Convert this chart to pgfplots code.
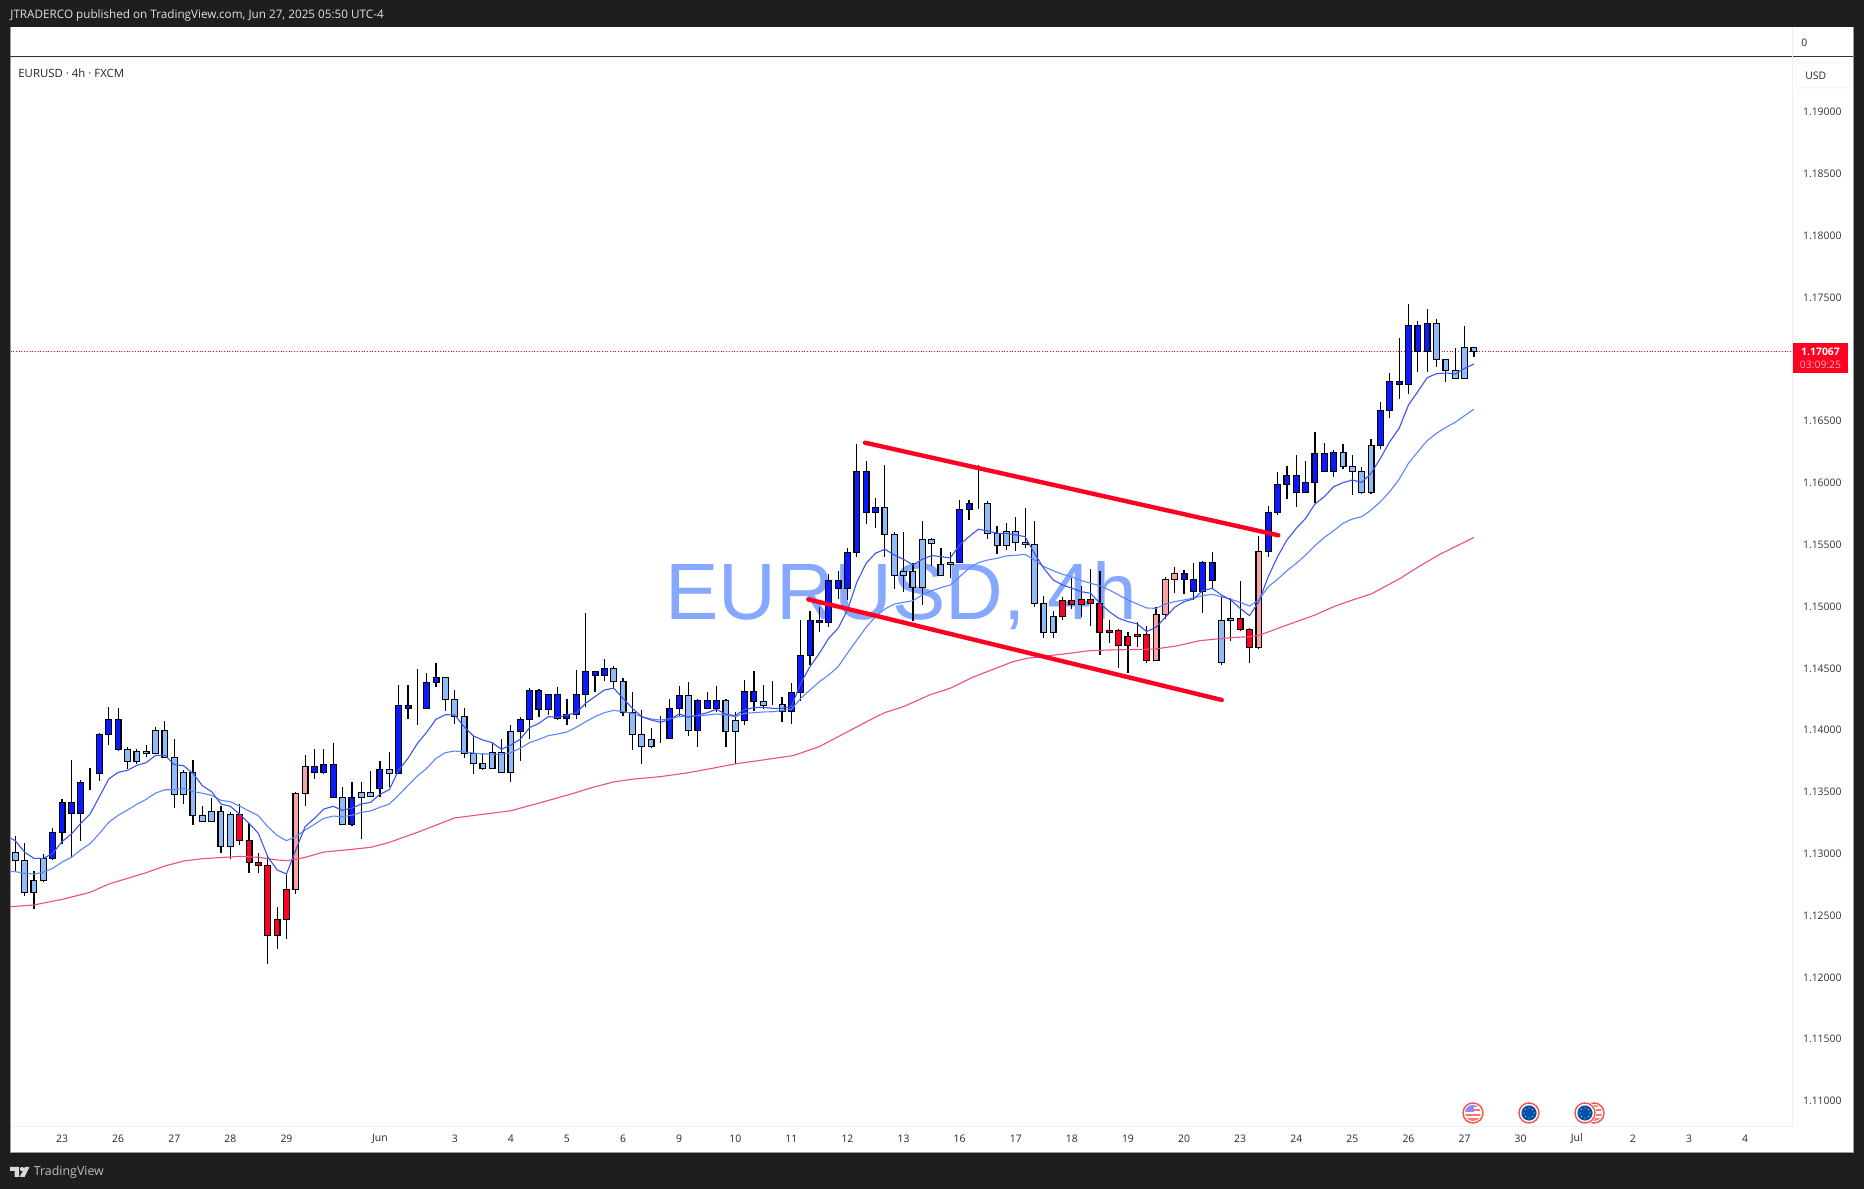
\documentclass[border=0pt]{standalone}
\usepackage{fontspec}
\setmainfont{Open Sans}
\usepackage{pgfplots}
\usepackage{pgfplotstable}
\pgfplotsset{compat=1.18}

\definecolor{chrome}{HTML}{1E1E1E}
\definecolor{upblue}{HTML}{0A1AFF}
\definecolor{dnblue}{HTML}{8FBBF9}
\definecolor{dnred}{HTML}{FF0022}
\definecolor{uppink}{HTML}{FAA1A4}
\definecolor{emafast}{HTML}{3B55F2}
\definecolor{emaslow}{HTML}{5C86FF}
\definecolor{emapink}{HTML}{EF4F7F}
\definecolor{wmark}{HTML}{86A8FF}
\definecolor{paneline}{HTML}{F0F0F0}

% x k high top bottom low  (k: 0 blue up, 1 light blue down, 2 red down, 3 pink up)
\pgfplotstableread{
x k h t b l
0 1 1.13144 1.13012 1.12947 1.12852
1 1 1.13084 1.12947 1.12688 1.12661
2 1 1.12861 1.12785 1.12688 1.12556
3 1 1.12995 1.12963 1.12785 1.12769
4 0 1.13206 1.13173 1.12963 1.12952
5 0 1.13440 1.13416 1.13173 1.13082
6 0 1.13758 1.13416 1.13327 1.12971
7 0 1.13594 1.13578 1.13327 1.13106
8 0 1.13694 1.13578 1.13578 1.13518
9 0 1.13974 1.13966 1.13650 1.13591
10 0 1.14184 1.14087 1.13966 1.13882
11 0 1.14176 1.14087 1.13845 1.13828
12 1 1.13861 1.13845 1.13748 1.13683
13 1 1.13845 1.13828 1.13748 1.13729
14 1 1.13877 1.13828 1.13812 1.13785
15 1 1.14023 1.13998 1.13812 1.13812
16 1 1.14074 1.13998 1.13780 1.13780
17 1 1.13928 1.13780 1.13481 1.13373
18 1 1.13675 1.13659 1.13481 1.13405
19 1 1.13758 1.13659 1.13311 1.13235
20 1 1.13386 1.13311 1.13262 1.13262
21 1 1.13448 1.13343 1.13262 1.13254
22 1 1.13386 1.13343 1.13060 1.13009
23 1 1.13335 1.13319 1.13060 1.12955
24 2 1.13400 1.13319 1.13109 1.13074
25 2 1.13246 1.13109 1.12931 1.12842
26 2 1.13003 1.12931 1.12906 1.12842
27 2 1.12971 1.12906 1.12340 1.12106
28 2 1.12569 1.12470 1.12340 1.12232
29 2 1.12842 1.12712 1.12470 1.12308
30 3 1.13497 1.13489 1.12712 1.12677
31 3 1.13796 1.13707 1.13489 1.13389
32 0 1.13845 1.13707 1.13659 1.13607
33 0 1.13845 1.13723 1.13659 1.13645
34 0 1.13893 1.13723 1.13456 1.13456
35 1 1.13537 1.13456 1.13238 1.13238
36 0 1.13578 1.13456 1.13238 1.13227
37 1 1.13578 1.13497 1.13456 1.13122
38 1 1.13667 1.13497 1.13464 1.13456
39 0 1.13748 1.13683 1.13529 1.13456
40 1 1.13820 1.13683 1.13650 1.13537
41 0 1.14362 1.14200 1.13650 1.13642
42 0 1.14362 1.14200 1.14176 1.14093
43 0 1.14492 1.14176 1.14176 1.14044
44 0 1.14460 1.14387 1.14176 1.14168
45 0 1.14541 1.14428 1.14387 1.14352
46 1 1.14428 1.14428 1.14249 1.14155
47 1 1.14325 1.14249 1.14112 1.14050
48 1 1.14176 1.14112 1.13813 1.13772
49 1 1.13953 1.13813 1.13732 1.13643
50 1 1.13813 1.13732 1.13692 1.13678
51 1 1.13894 1.13821 1.13692 1.13692
52 1 1.13926 1.13821 1.13659 1.13651
53 1 1.14039 1.13991 1.13659 1.13578
54 0 1.14104 1.14088 1.13991 1.13754
55 0 1.14339 1.14322 1.14088 1.13926
56 0 1.14330 1.14322 1.14169 1.14104
57 0 1.14290 1.14290 1.14169 1.14123
58 0 1.14347 1.14290 1.14096 1.14080
59 0 1.14255 1.14128 1.14096 1.14042
60 0 1.14487 1.14290 1.14128 1.14093
61 0 1.14945 1.14476 1.14290 1.14185
62 0 1.14476 1.14476 1.14444 1.14309
63 0 1.14573 1.14500 1.14444 1.14395
64 1 1.14516 1.14500 1.14395 1.14330
65 1 1.14419 1.14395 1.14144 1.14117
66 1 1.14306 1.14144 1.13967 1.13837
67 1 1.14161 1.13967 1.13869 1.13724
68 1 1.14015 1.13926 1.13869 1.13853
69 0 1.14112 1.13934 1.13934 1.13894
70 0 1.14249 1.14176 1.13934 1.13934
71 0 1.14355 1.14282 1.14176 1.14104
72 1 1.14387 1.14282 1.13999 1.13950
73 0 1.14249 1.14242 1.13999 1.13867
74 0 1.14306 1.14242 1.14176 1.14176
75 0 1.14355 1.14242 1.14176 1.14150
76 1 1.14249 1.14242 1.13991 1.13861
77 1 1.14144 1.14080 1.13991 1.13724
78 0 1.14403 1.14314 1.14080 1.14039
79 0 1.14476 1.14314 1.14233 1.14153
80 1 1.14363 1.14233 1.14201 1.14169
81 0 1.14395 1.14209 1.14209 1.14201
82 1 1.14266 1.14209 1.14153 1.14064
83 0 1.14379 1.14306 1.14153 1.14053
84 0 1.14891 1.14605 1.14306 1.14239
85 0 1.14961 1.14889 1.14605 1.14530
86 0 1.14994 1.14889 1.14873 1.14794
87 0 1.15261 1.15212 1.14873 1.14837
88 0 1.15285 1.15212 1.15148 1.15059
89 0 1.15471 1.15439 1.15148 1.15053
90 0 1.16315 1.16094 1.15439 1.15404
91 0 1.16175 1.16094 1.15762 1.15671
92 0 1.15875 1.15803 1.15762 1.15638
93 1 1.16142 1.15803 1.15584 1.15398
94 1 1.15600 1.15584 1.15253 1.15142
95 1 1.15603 1.15285 1.15253 1.15121
96 1 1.15350 1.15285 1.15156 1.14886
97 1 1.15689 1.15544 1.15156 1.15013
98 1 1.15552 1.15544 1.15511 1.15331
99 1 1.15471 1.15342 1.15253 1.15253
100 1 1.15439 1.15358 1.15342 1.15234
101 0 1.15859 1.15786 1.15358 1.15358
102 0 1.15859 1.15835 1.15786 1.15703
103 0 1.16142 1.15835 1.15835 1.15786
104 1 1.15851 1.15835 1.15592 1.15549
105 1 1.15649 1.15592 1.15495 1.15425
106 1 1.15673 1.15609 1.15495 1.15460
107 1 1.15722 1.15609 1.15520 1.15449
108 1 1.15795 1.15520 1.15503 1.15476
109 1 1.15689 1.15503 1.15026 1.14994
110 1 1.15083 1.15026 1.14792 1.14749
111 1 1.14964 1.14921 1.14792 1.14749
112 2 1.15075 1.15050 1.14921 1.14891
113 2 1.15231 1.15050 1.15018 1.14983
114 2 1.15164 1.15059 1.15018 1.14918
115 2 1.15301 1.15059 1.15026 1.14846
116 2 1.15285 1.15026 1.14792 1.14608
117 2 1.14891 1.14808 1.14792 1.14708
118 2 1.14816 1.14808 1.14687 1.14506
119 2 1.14792 1.14759 1.14687 1.14463
120 2 1.14873 1.14775 1.14759 1.14676
121 2 1.14840 1.14775 1.14565 1.14546
122 3 1.14994 1.14937 1.14565 1.14557
123 3 1.15236 1.15220 1.14937 1.14899
124 3 1.15320 1.15269 1.15220 1.15110
125 0 1.15293 1.15269 1.15220 1.15102
126 0 1.15350 1.15220 1.15123 1.15050
127 0 1.15365 1.15357 1.15123 1.14950
128 0 1.15438 1.15357 1.15212 1.15147
129 1 1.15082 1.14888 1.14548 1.14524
130 1 1.15066 1.14904 1.14888 1.14724
131 2 1.15203 1.14904 1.14815 1.14804
132 2 1.14823 1.14815 1.14670 1.14540
133 3 1.15567 1.15446 1.14670 1.14653
134 0 1.15810 1.15762 1.15446 1.15403
135 0 1.16086 1.15988 1.15762 1.15743
136 0 1.16134 1.16061 1.15988 1.15867
137 0 1.16223 1.16061 1.15924 1.15803
138 0 1.16175 1.16005 1.15924 1.15924
139 0 1.16409 1.16239 1.16005 1.15835
140 0 1.16320 1.16239 1.16094 1.16086
141 0 1.16264 1.16247 1.16094 1.16045
142 1 1.16315 1.16247 1.16134 1.16113
143 1 1.16223 1.16134 1.16094 1.15905
144 1 1.16126 1.16094 1.15924 1.15908
145 1 1.16353 1.16304 1.15924 1.15908
146 0 1.16651 1.16587 1.16304 1.16271
147 0 1.16886 1.16821 1.16587 1.16527
148 0 1.17169 1.16821 1.16797 1.16676
149 0 1.17444 1.17274 1.16797 1.16722
150 0 1.17307 1.17274 1.17064 1.16899
151 0 1.17404 1.17290 1.17064 1.16899
152 1 1.17323 1.17290 1.16999 1.16940
153 1 1.16999 1.16999 1.16910 1.16813
154 1 1.17088 1.16910 1.16846 1.16846
155 1 1.17266 1.17096 1.16846 1.16837
156 1 1.17096 1.17096 1.17064 1.17021
}\candles

\pgfplotstableread{
x y
-0.5 1.13125
0 1.13106
1 1.13012
2 1.12963
3 1.12963
4 1.13003
5 1.13098
6 1.13160
7 1.13246
8 1.13322
9 1.13462
10 1.13605
11 1.13659
12 1.13675
13 1.13715
14 1.13737
15 1.13796
16 1.13796
17 1.13721
18 1.13712
19 1.13650
20 1.13551
21 1.13502
22 1.13402
23 1.13384
24 1.13319
25 1.13246
26 1.13165
27 1.12976
28 1.12869
29 1.12836
30 1.13031
31 1.13219
32 1.13287
33 1.13362
34 1.13384
35 1.13351
36 1.13370
37 1.13402
38 1.13416
39 1.13481
40 1.13518
41 1.13677
42 1.13772
43 1.13892
44 1.13983
45 1.14088
46 1.14125
47 1.14122
48 1.14028
49 1.13953
50 1.13920
51 1.13899
52 1.13845
53 1.13880
54 1.13926
55 1.14020
56 1.14055
57 1.14109
58 1.14104
59 1.14122
60 1.14141
61 1.14217
62 1.14271
63 1.14325
64 1.14339
65 1.14257
66 1.14176
67 1.14109
68 1.14082
69 1.14063
70 1.14087
71 1.14131
72 1.14104
73 1.14122
74 1.14141
75 1.14168
76 1.14128
77 1.14117
78 1.14168
79 1.14182
80 1.14184
81 1.14176
82 1.14176
83 1.14190
84 1.14379
85 1.14514
86 1.14622
87 1.14743
88 1.14824
89 1.14972
90 1.15196
91 1.15350
92 1.15431
93 1.15463
94 1.15417
95 1.15382
96 1.15336
97 1.15382
98 1.15412
99 1.15403
100 1.15393
101 1.15498
102 1.15565
103 1.15625
104 1.15611
105 1.15592
106 1.15592
107 1.15579
108 1.15565
109 1.15430
110 1.15309
111 1.15215
112 1.15174
113 1.15148
114 1.15120
115 1.15107
116 1.15026
117 1.14958
118 1.14905
119 1.14878
120 1.14859
121 1.14797
122 1.14832
123 1.14913
124 1.14994
125 1.15039
126 1.15061
127 1.15128
128 1.15147
129 1.15093
130 1.15052
131 1.14985
132 1.14926
133 1.15039
134 1.15241
135 1.15403
136 1.15538
137 1.15632
138 1.15713
139 1.15829
140 1.15888
141 1.15969
142 1.16002
143 1.16023
144 1.16004
145 1.16077
146 1.16199
147 1.16333
148 1.16441
149 1.16630
150 1.16738
151 1.16851
152 1.16883
153 1.16889
154 1.16881
155 1.16926
156 1.16961
}\emafast

\pgfplotstableread{
x y
-0.5 1.12855
0 1.12855
1 1.12842
2 1.12836
3 1.12850
4 1.12882
5 1.12933
6 1.12971
7 1.13031
8 1.13082
9 1.13165
10 1.13254
11 1.13311
12 1.13354
13 1.13400
14 1.13440
15 1.13491
16 1.13518
17 1.13518
18 1.13529
19 1.13505
20 1.13489
21 1.13473
22 1.13432
23 1.13421
24 1.13386
25 1.13346
26 1.13308
27 1.13219
28 1.13149
29 1.13106
30 1.13138
31 1.13192
32 1.13238
33 1.13287
34 1.13305
35 1.13300
36 1.13311
37 1.13335
38 1.13346
39 1.13376
40 1.13402
41 1.13475
42 1.13553
43 1.13629
44 1.13691
45 1.13772
46 1.13818
47 1.13831
48 1.13823
49 1.13815
50 1.13807
51 1.13807
52 1.13804
53 1.13818
54 1.13853
55 1.13899
56 1.13926
57 1.13955
58 1.13969
59 1.13985
60 1.14023
61 1.14068
62 1.14109
63 1.14141
64 1.14160
65 1.14149
66 1.14136
67 1.14109
68 1.14090
69 1.14082
70 1.14093
71 1.14109
72 1.14109
73 1.14117
74 1.14122
75 1.14131
76 1.14122
77 1.14109
78 1.14136
79 1.14141
80 1.14147
81 1.14149
82 1.14158
83 1.14168
84 1.14257
85 1.14325
86 1.14392
87 1.14446
88 1.14514
89 1.14622
90 1.14729
91 1.14832
92 1.14918
93 1.14980
94 1.15020
95 1.15034
96 1.15047
97 1.15093
98 1.15128
99 1.15152
100 1.15174
101 1.15241
102 1.15309
103 1.15355
104 1.15376
105 1.15390
106 1.15409
107 1.15414
108 1.15422
109 1.15376
110 1.15322
111 1.15290
112 1.15260
113 1.15241
114 1.15209
115 1.15188
116 1.15168
117 1.15134
118 1.15093
119 1.15053
120 1.15020
121 1.14988
122 1.14985
123 1.15020
124 1.15039
125 1.15053
126 1.15069
127 1.15088
128 1.15098
129 1.15079
130 1.15058
131 1.15034
132 1.15004
133 1.15053
134 1.15160
135 1.15220
136 1.15290
137 1.15349
138 1.15416
139 1.15492
140 1.15559
141 1.15613
142 1.15673
143 1.15708
144 1.15726
145 1.15780
146 1.15848
147 1.15929
148 1.16029
149 1.16158
150 1.16252
151 1.16341
152 1.16401
153 1.16449
154 1.16490
155 1.16544
156 1.16595
}\emaslow

\pgfplotstableread{
x y
-0.5 1.12572
2 1.12586
5 1.12631
8 1.12688
10 1.12755
14 1.12847
16 1.12901
18 1.12941
20 1.12960
24 1.12979
26 1.12971
28 1.12950
29 1.12944
30 1.12955
31 1.12971
33 1.13014
35 1.13028
38 1.13052
40 1.13092
43 1.13173
47 1.13290
53 1.13348
57.2 1.13435
59.7 1.13489
61.8 1.13538
64 1.13581
66 1.13603
69 1.13624
72 1.13656
74.6 1.13692
77 1.13727
80 1.13759
83.2 1.13794
86 1.13867
91.4 1.14082
93 1.14142
95 1.14190
97.8 1.14285
100 1.14339
102.4 1.14428
104.6 1.14492
106.7 1.14554
108.2 1.14581
110.3 1.14600
112.8 1.14622
114.9 1.14643
117.4 1.14649
121 1.14654
122 1.14657
124.2 1.14681
126.7 1.14724
130 1.14748
132 1.14756
133 1.14767
134 1.14794
136 1.14850
139 1.14931
141 1.14999
143 1.15052
145 1.15101
148 1.15222
150.2 1.15327
152.4 1.15424
156 1.15558
}\emalong

\pgfplotsset{
  chart/.style={
    at={(5.25pt,31.25pt)}, anchor=south west,
    scale only axis, width=890.75pt, height=534.25pt,
    xmin=-0.513, xmax=190.02, ymin=1.10794, ymax=1.194368,
    clip=true,
  },
  candlebody/.style={draw=black, line width=0.6pt, fill=#1},
}

\newcommand{\txt}[1]{\fontsize{#1}{#1}\selectfont}

\begin{document}
\begin{tikzpicture}[x=1pt,y=1pt]
% page chrome, coordinates in reference pixels
\begin{scope}[x=0.5pt,y=-0.5pt,shift={(0pt,594.5pt)}]
  \fill[chrome] (0,0) rectangle (1864,1189);
  \fill[white] (10,27) rectangle (1853,1153);
  \node[anchor=base west,inner sep=0pt,text=wmark,font=\fontspec{Liberation Sans}\fontsize{40}{40}\selectfont] at (665,620) {EURUSD, 4h};
\end{scope}

% axis with ticks, price line, wicks
\begin{axis}[chart,
    axis line style={draw=paneline, line width=0.5pt},
    tick style={draw=none},
    ytick={1.11,1.115,1.12,1.125,1.13,1.135,1.14,1.145,1.15,1.155,1.16,1.165,1.175,1.18,1.185,1.19},
    ytick pos=right,
    yticklabel pos=right,
    yticklabel style={font=\txt{5.2}, text=black!80, anchor=west, xshift=2pt,
      /pgf/number format/.cd, fixed, fixed zerofill, precision=5, assume math mode=true},
    scaled y ticks=false,
    xtick={5,11,17,23,29,39,47,53,59,65,71,77,83,89,95,101,107,113,119,125,131,137,143,149,155,161,167,173,179,185},
    xticklabels={23,26,27,28,29,Jun,3,4,5,6,9,10,11,12,13,16,17,18,19,20,23,24,25,26,27,30,Jul,2,3,4},
    xtick pos=bottom,
    xticklabel style={font=\txt{5.2}, text=black!85, anchor=center, yshift=-6.2pt},
  ]
  \addplot[dnred, line width=0.35pt, dash pattern=on 0.4pt off 0.95pt] coordinates {(-0.5,1.17067) (190,1.17067)};
  \addplot[draw=none, mark=none,
    error bars/.cd, y dir=both, y explicit, error mark=none,
    error bar style={black, line width=0.6pt}]
    table[x=x, y=t, y error plus expr=\thisrow{h}-\thisrow{t}, y error minus expr=\thisrow{t}-\thisrow{l}] {\candles};
\end{axis}

% candle bodies stacked on an invisible base
\begin{axis}[chart, hide axis, ybar stacked, bar width=2.9pt]
  \addplot[draw=none, fill=none] table[x=x, y=b] {\candles};
  \addplot[candlebody=upblue] table[x=x, y expr={(\thisrow{k}==0)*(\thisrow{t}-\thisrow{b})}] {\candles};
  \addplot[candlebody=dnblue] table[x=x, y expr={(\thisrow{k}==1)*(\thisrow{t}-\thisrow{b})}] {\candles};
  \addplot[candlebody=dnred] table[x=x, y expr={(\thisrow{k}==2)*(\thisrow{t}-\thisrow{b})}] {\candles};
  \addplot[candlebody=uppink] table[x=x, y expr={(\thisrow{k}==3)*(\thisrow{t}-\thisrow{b})}] {\candles};
\end{axis}

% moving averages and trend lines on top
\begin{axis}[chart, hide axis]
  \addplot[emapink, line width=0.55pt] table[x=x,y=y] {\emalong};
  \addplot[emaslow, line width=0.55pt] table[x=x,y=y] {\emaslow};
  \addplot[emafast, line width=0.55pt] table[x=x,y=y] {\emafast};
  \addplot[dnred, line width=2.2pt, line cap=round] coordinates {(90.88,1.16325) (135.08,1.15576)};
  \addplot[dnred, line width=2.2pt, line cap=round] coordinates {(84.81,1.15058) (129.03,1.14244)};
\end{axis}

\begin{scope}[x=0.5pt,y=-0.5pt,shift={(0pt,594.5pt)}]
  % panel frame and pane separators
  \draw[black!40, line width=0.5pt] (10,27) -- (10,1153) -- (1853,1153) -- (1853,27);
  \draw[black!80, line width=0.5pt] (10,57) -- (1853,57);
  \draw[paneline, line width=0.5pt] (1792,27) -- (1792,57);
  % header and footer
  \node[anchor=west,inner sep=0pt,text=white!88!black,font=\txt{5.85}] at (10,15) {JTRADERCO published on TradingView.com, Jun 27, 2025 05:50 UTC-4};
  \node[anchor=west,inner sep=0pt,text=black!85,font=\txt{5.7}] at (18,73) {EURUSD · 4h · FXCM};
  \node[anchor=west,inner sep=0pt,text=black!85,font=\txt{5.2}] at (1801,43) {0};
  \draw[black!4, line width=0.5pt, rounded corners=2pt] (1796,63) rectangle (1850,88);
  \node[anchor=west,inner sep=0pt,text=black!85,font=\txt{5.2}] at (1805,76) {USD};
  % logo
  \fill[white!85!black] (10,1167) -- (19,1167) -- (19,1177) -- (14.5,1177) -- (14.5,1171) -- (10,1171) -- cycle;
  \fill[white!85!black] (22,1169) circle (2.1);
  \fill[white!85!black] (25,1167) -- (29.5,1167) -- (24.5,1177) -- (19.5,1177) -- cycle;
  \node[anchor=west,inner sep=0pt,text=white!75!black,font=\txt{6.2}] at (33.5,1172) {TradingView};
  % last price tag
  \fill[dnred] (1793,343) rectangle (1848,373);
  \node[anchor=center,inner sep=0pt,text=white,font=\txt{5.2}\bfseries] at (1820.5,352) {1.17067};
  \node[anchor=center,inner sep=0pt,text=white!70!dnred,font=\txt{5.2}] at (1820.5,365) {03:09:25};
  % event flags
  \foreach \cx in {1594,1473}{
    \fill[white] (\cx,1113) circle (11.5);
    \draw[red!70!white, line width=0.7pt] (\cx,1113) circle (10);
    \begin{scope}
      \clip (\cx,1113) circle (8);
      \fill[red!55!white] (\cx-8,1105) rectangle (\cx+8,1107);
      \fill[red!55!white] (\cx-8,1109.5) rectangle (\cx+8,1111.5);
      \fill[red!55!white] (\cx-8,1114) rectangle (\cx+8,1116);
      \fill[red!55!white] (\cx-8,1118.5) rectangle (\cx+8,1121);
      \fill[blue!45!white] (\cx-8,1105) rectangle (\cx+1,1112);
    \end{scope}
  }
  \foreach \cx in {1529,1585}{
    \fill[white] (\cx,1113) circle (11.5);
    \draw[red!70!white, line width=0.7pt] (\cx,1113) circle (10);
    \fill[blue!55!cyan!70!black] (\cx,1113) circle (7.6);
    \foreach \a in {0,45,...,315}{
      \fill[yellow!70!orange] ({\cx+5*cos(\a)},{1113+5*sin(\a)}) circle (0.7);
    }
  }
\end{scope}
\end{tikzpicture}
\end{document}
